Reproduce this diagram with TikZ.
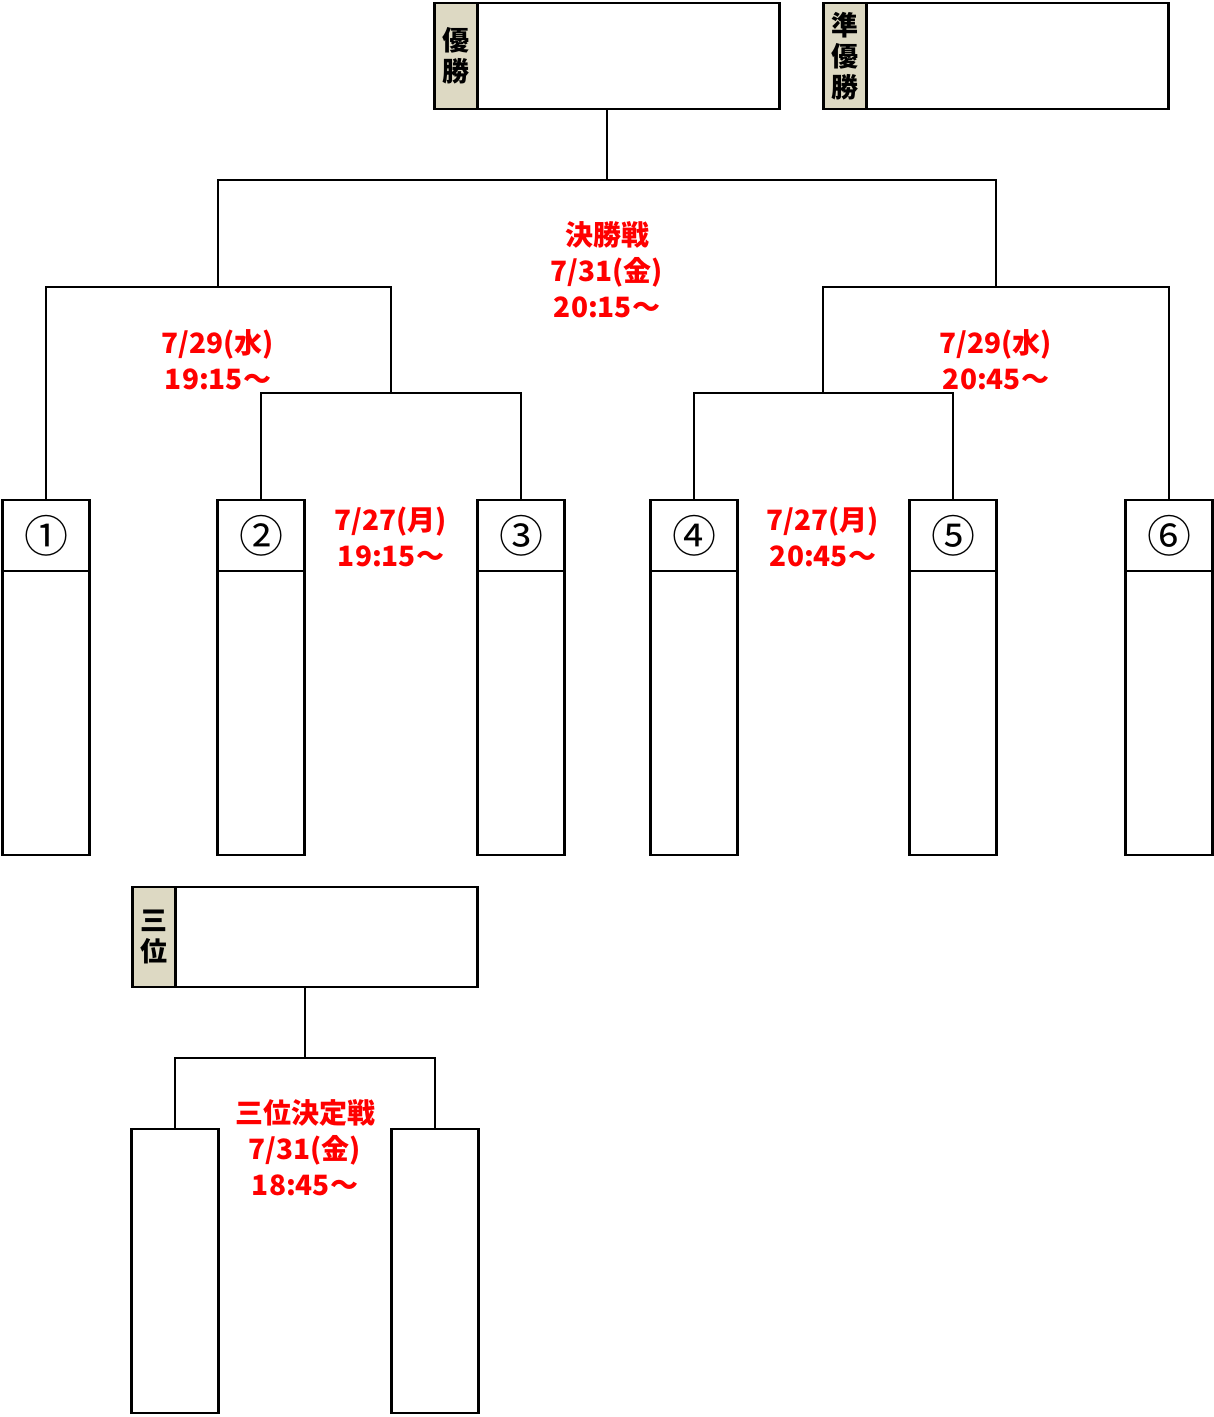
\documentclass[tikz,border=0pt]{standalone}
\usepackage{fontspec}
\setmainfont{Noto Sans CJK JP}
\usetikzlibrary{positioning}
\definecolor{tagTan}{RGB}{221,217,195}
\definecolor{noteRed}{RGB}{255,0,0}

\begin{document}
\begin{tikzpicture}[
  x=1pt, y=-1pt,
  node distance=0pt,
  wire/.style={line width=2.6pt},
  slot/.style={draw, line width=2.6pt, minimum width=87pt, inner sep=0pt, outer sep=0pt},
  head/.style={slot, minimum height=71pt, font=\fontsize{44}{44}\selectfont},
  body/.style={slot, minimum height=284pt},
  prize/.style={draw, line width=2.6pt, minimum width=345pt, inner sep=0pt, outer sep=0pt},
  tag/.style={draw, line width=2.6pt, fill=tagTan, minimum width=43pt, inner sep=0pt, outer sep=0pt, align=center, font=\fontsize{27}{31}\selectfont\bfseries},
  note/.style={text=noteRed, align=center, font=\fontsize{28}{36}\selectfont\bfseries}
]
  \useasboundingbox (0,0) rectangle (1214,1417);

  % prize boxes
  \node[prize, minimum height=106pt] (champ) at (607,56) {};
  \node[tag, minimum height=106pt, anchor=west] (champtag) at (champ.west) {優\\勝};
  \node[prize, minimum height=106pt] (second) at (996,56) {};
  \node[tag, minimum height=106pt, anchor=west] (secondtag) at (second.west) {準\\優\\勝};
  \node[prize, minimum height=100pt] (third) at (305,937) {};
  \node[tag, minimum height=100pt, anchor=west] (thirdtag) at (third.west) {三\\位};

  % team slots
  \node[head] (t1) at (46,535.5) {①};
  \node[head] (t2) at (261,535.5) {②};
  \node[head] (t3) at (521,535.5) {③};
  \node[head] (t4) at (694,535.5) {④};
  \node[head] (t5) at (953,535.5) {⑤};
  \node[head] (t6) at (1169,535.5) {⑥};
  \foreach \i in {1,...,6}
    \node[body, below=of t\i] (t\i body) {};

  % third place slots
  \node[body] (b1) at (175,1271) {};
  \node[body] (b2) at (435,1271) {};

  % bracket joints
  \coordinate (qfA) at (391,393);
  \coordinate (qfB) at (823,393);
  \coordinate (sfA) at (218,287);
  \coordinate (sfB) at (996,287);
  \coordinate (fin) at (607,180);
  \coordinate (bron) at (305,1058);

  \draw[wire] (t2.north) |- (qfA) -| (t3.north);
  \draw[wire] (t4.north) |- (qfB) -| (t5.north);
  \draw[wire] (t1.north) |- (sfA) -| (qfA);
  \draw[wire] (qfB) |- (sfB) -| (t6.north);
  \draw[wire] (sfA) |- (fin) -| (sfB);
  \draw[wire] (fin) -- (champ.south);
  \draw[wire] (b1.north) |- (bron) -| (b2.north);
  \draw[wire] (bron) -- (third.south);

  % match dates
  \node[note] (finnote) at (607,270) {決勝戦\\7/31(金)\\20:15〜};
  \node[note] (sfAnote) at (218,360) {7/29(水)\\19:15〜};
  \node[note] (sfBnote) at (996,360) {7/29(水)\\20:45〜};
  \node[note] (qfAnote) at (391,537) {7/27(月)\\19:15〜};
  \node[note] (qfBnote) at (823,537) {7/27(月)\\20:45〜};
  \node[note] (bronnote) at (305,1148) {三位決定戦\\7/31(金)\\18:45〜};
\end{tikzpicture}
\end{document}
